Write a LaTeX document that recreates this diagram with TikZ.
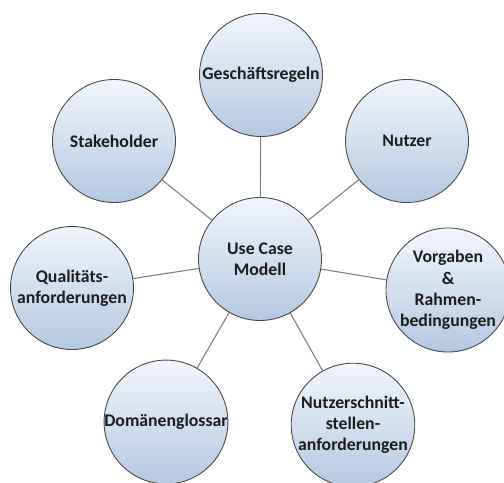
\documentclass[tikz,border=0pt]{standalone}
\usepackage{fontspec}
\setmainfont{Carlito}
\definecolor{rimgray}{HTML}{4A4A4A}
\definecolor{linkgray}{HTML}{808080}
\definecolor{bubtop}{HTML}{F2F6FB}
\definecolor{bubbot}{HTML}{B3C8E2}
\definecolor{inkblack}{HTML}{1C1C1C}
\begin{document}
\begin{tikzpicture}[x=1bp,y=-1bp,
  bubble/.style={circle, draw=rimgray, line width=0.9bp, minimum size=123bp, inner sep=0pt,
    top color=bubtop, bottom color=bubbot, align=center, text=inkblack,
    font=\fontsize{17.8}{21.3}\selectfont\bfseries},
  link/.style={draw=linkgray, line width=1.1bp}]
\useasboundingbox (0,0) rectangle (504,483);
\clip (0,0) rectangle (504,483);
\node[bubble] (uc)  at (260,259) {Use Case\\Modell};
\node[bubble] (gr)  at (261,75)  {Gesch\"aftsregeln};
\node[bubble] (sh)  at (114,141) {Stakeholder};
\node[bubble] (nu)  at (407,141) {Nutzer};
\node[bubble] (qa)  at (72,288)  {Qualit\"ats-\\anforderungen};
\node[bubble] (vr)  at (448,290) {Vorgaben\\\&\\Rahmen-\\bedingungen};
\node[bubble] (dg)  at (166,422) {Dom\"anenglossar};
\node[bubble] (ns)  at (353,425) {Nutzerschnitt-\\stellen-\\anforderungen};
\foreach \n in {gr,sh,nu,qa,vr,dg,ns} \draw[link] (uc) -- (\n);
\end{tikzpicture}
\end{document}
